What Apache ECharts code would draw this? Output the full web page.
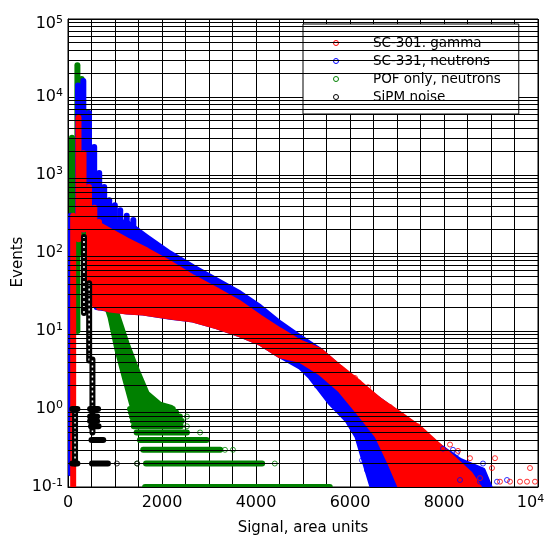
<!DOCTYPE html>
<html>
<head>
<meta charset="utf-8">
<script src="https://cdn.jsdelivr.net/npm/echarts@6/dist/echarts.min.js"></script>
<style>
  html, body { margin: 0; padding: 0; background: #fff; }
  #chart { width: 544px; height: 537px; }
</style>
</head>
<body>
<div id="chart"></div>
<script>
// ---- Series names (legend order) ----
const seriesNames = ['SC-301. gamma', 'SC-331, neutrons', 'POF only, neutrons', 'SiPM noise'];

// ---- Axis ticks ----
const xLabelTicks = [0, 2000, 4000, 6000, 8000, 10000];
const yDecades = [-1, 0, 1, 2, 3, 4, 5];

// ---- SC-301, gamma ----
// columns: [signal, lowest events, highest events]
const gammaColumns = [[110, 0.1, 300], [223, 150, 5400], [330, 200, 1900], [447, 30, 700], [560, 22, 380], [660, 20, 250]];
// envelope of the dense cloud: [signal, events]
const gammaBandUpper = [[700, 225], [1255, 147], [1681, 109], [2170, 74.5], [2660, 49.2], [3170, 33.5], [3660, 22.9], [4085, 15.1], [4511, 10.3], [4936, 7.2], [5362, 5.7], [5787, 3.45], [6213, 2.15], [6638, 1.3], [7064, 0.87], [7489, 0.57], [7850, 0.36], [8250, 0.22], [8550, 0.15], [8750, 0.1]];
const gammaBandLower = [[700, 20], [894, 18.6], [1255, 17.5], [1596, 17], [2170, 15.1], [2660, 13.8], [3170, 11.3], [3660, 8.9], [4085, 7.0], [4511, 4.8], [4936, 4.2], [5362, 2.9], [5787, 1.75], [6213, 0.85], [6574, 0.45], [6851, 0.2], [7064, 0.1]];
const gammaPoints = [[6106, 2.5], [6383, 1.9], [6851, 1.06], [7447, 0.6], [7596, 0.42], [8128, 0.35], [8298, 0.29], [8553, 0.234], [9085, 0.234], [9021, 0.175], [9830, 0.175], [8596, 0.117], [8766, 0.13], [9191, 0.117], [9404, 0.117], [9617, 0.117], [9766, 0.117], [9936, 0.117]];

// ---- SC-331, neutrons ----
const neutronColumns = [[55, 0.15, 300], [213, 200, 14000], [326, 200, 16000], [447, 200, 6240], [557, 150, 2290], [664, 100, 1060], [770, 100, 700], [877, 100, 476], [996, 100, 410], [1111, 100, 354], [1249, 100, 300], [1390, 100, 265]];
const neutronBandUpper = [[600, 250], [1250, 250], [1675, 162], [2170, 100], [2660, 66.7], [3164, 45], [3660, 30.7], [4085, 20.5], [4511, 12.7], [4936, 8.45], [5362, 5.7], [5787, 3.4], [6213, 2.0], [6638, 1.3], [7064, 0.84], [7489, 0.54], [7915, 0.33], [8340, 0.22], [8830, 0.165], [8980, 0.1]];
const neutronBandLower = [[600, 20], [1255, 17.5], [1596, 17], [2170, 15], [2660, 13.8], [3170, 11.3], [3660, 8.9], [4085, 7.0], [4511, 4.8], [4936, 3.45], [5149, 2.6], [5575, 1.2], [5936, 0.72], [6149, 0.44], [6277, 0.24], [6468, 0.1]];
const neutronPoints = [[5291, 2.0], [6255, 0.22], [6362, 0.165], [7979, 0.31], [8191, 0.3], [8277, 0.273], [8617, 0.175], [8830, 0.2], [8340, 0.123], [8766, 0.117], [9128, 0.117], [9340, 0.123]];

// ---- POF only, neutrons ----
const pofColumns = [[85, 2, 3000], [200, 10, 25600], [290, 100, 17000], [400, 100, 6400], [500, 50, 1300]];
const pofBandUpper = [[851, 21], [1043, 17], [1255, 7.0], [1468, 3.2], [1681, 1.6], [1957, 1.15], [2200, 1.05]];
const pofBandLower = [[851, 18], [894, 15], [1043, 5.7], [1213, 2.35], [1362, 1.1], [1500, 0.95], [2200, 0.95]];
// rows: [events, first signal, last signal]
const pofRows = [[1.0, 1320, 2230], [0.9, 1340, 2300], [0.8, 1360, 2380], [0.7, 1380, 2420], [0.6, 1400, 2400], [0.5, 1460, 2530], [0.4, 1530, 2950], [0.3, 1600, 3240], [0.2, 1660, 4130], [0.1, 1640, 5570]];
const pofPoints = [[1745, 1.2], [2064, 0.9], [2530, 0.8], [2530, 0.6], [2810, 0.5], [3340, 0.3], [3510, 0.3], [4400, 0.2], [1470, 0.2]];

// ---- SiPM noise ----
const noiseColumns = [[150, 0.2, 1.0], [340, 17, 160], [450, 4.2, 41], [520, 0.5, 4.3]];
const noiseRows = [[1.0, 90, 200], [1.0, 470, 640], [0.8, 470, 620], [0.7, 470, 620], [0.6, 490, 650], [0.4, 500, 750], [0.2, 90, 200], [0.2, 510, 850]];
const noisePoints = [[1040, 0.2], [1470, 0.2]];

// ---- Styling ----
const FONT = 'DejaVu Sans';
const RED = '#ff0000', BLUE = '#0000ff', GREEN = '#008000', BLACK = '#000000';
const MARK = 6; // outer diameter of a hollow marker, px

// minor log grid levels 2..9 x 10^k
const minorLevels = [];
for (let k = -1; k < 5; k++) {
  for (let m = 2; m <= 9; m++) minorLevels.push(+(m * Math.pow(10, k)).toPrecision(3));
}

function columnSeries(name, color, data, hollow) {
  return {
    name, type: 'custom', clip: true, data, silent: true,
    encode: { x: 0, y: [1, 2] },
    itemStyle: { color },
    renderItem(params, api) {
      const a = api.coord([api.value(0), api.value(1)]);
      const b = api.coord([api.value(0), api.value(2)]);
      const shape = { x1: a[0], y1: a[1], x2: b[0], y2: b[1] };
      const outer = { type: 'line', shape, style: { stroke: color, lineWidth: MARK, lineCap: 'round' } };
      if (!hollow) return outer;
      return {
        type: 'group',
        children: [outer, { type: 'line', shape, style: { stroke: '#fff', lineWidth: 1.5, lineDash: [2, 3] } }]
      };
    }
  };
}

function rowSeries(name, color, data) {
  return {
    name, type: 'custom', clip: true, data, silent: true,
    encode: { y: 0, x: [1, 2] },
    itemStyle: { color },
    renderItem(params, api) {
      const a = api.coord([api.value(1), api.value(0)]);
      const b = api.coord([api.value(2), api.value(0)]);
      return { type: 'line', shape: { x1: a[0], y1: a[1], x2: b[0], y2: b[1] }, style: { stroke: color, lineWidth: MARK, lineCap: 'round' } };
    }
  };
}

function bandSeries(name, color, upper, lower) {
  const outline = upper.concat(lower.slice().reverse());
  return {
    name, type: 'custom', clip: true, data: outline, silent: true,
    encode: { x: 0, y: 1 },
    itemStyle: { color },
    renderItem(params, api) {
      if (params.dataIndex !== 0) return null;
      return {
        type: 'polygon',
        shape: { points: outline.map(p => api.coord(p)) },
        style: { fill: color, stroke: color, lineWidth: MARK - 1, lineJoin: 'round' }
      };
    }
  };
}

function pointSeries(name, color, data) {
  return {
    name, type: 'scatter', clip: true, data, silent: true,
    symbol: 'circle', symbolSize: MARK - 1,
    itemStyle: { color: 'rgba(0,0,0,0)', borderColor: color, borderWidth: 1 }
  };
}

const rich = {
  b: { fontFamily: FONT, fontSize: 16, lineHeight: 18, color: '#000' },
  s: { fontFamily: FONT, fontSize: 11, lineHeight: 11, color: '#000', verticalAlign: 'top' },
  gap: { fontSize: 1, lineHeight: 10 },   // empty first line that pushes the top label down
  pad: { width: 15 }                     // trailing space that pulls the last x label left
};

function powerLabel(e) {
  return '{b|10}{s|' + e + '}';
}

const chart = echarts.init(document.getElementById('chart'), null, { renderer: 'canvas' });

chart.setOption({
  animation: false,
  backgroundColor: '#fff',
  grid: {
    left: 68, right: 6, top: 19, bottom: 50,
    containLabel: false, outerBoundsMode: 'none',
    show: true, borderColor: '#000', borderWidth: 1, backgroundColor: 'transparent'
  },
  legend: {
    orient: 'vertical', left: 303, top: 24,
    padding: [12, 18, 10, 30],
    itemWidth: 6, itemHeight: 5, itemGap: 4,
    backgroundColor: '#fff', borderColor: '#000', borderWidth: 1,
    selectedMode: false,
    textStyle: { fontFamily: FONT, fontSize: 13.5, lineHeight: 14, color: '#000', padding: [0, 0, 0, 29] },
    data: [
      { name: seriesNames[0], icon: 'circle', itemStyle: { color: '#fff', borderColor: RED, borderWidth: 1 } },
      { name: seriesNames[1], icon: 'circle', itemStyle: { color: '#fff', borderColor: BLUE, borderWidth: 1 } },
      { name: seriesNames[2], icon: 'circle', itemStyle: { color: '#fff', borderColor: GREEN, borderWidth: 1 } },
      { name: seriesNames[3], icon: 'circle', itemStyle: { color: '#fff', borderColor: BLACK, borderWidth: 1 } }
    ]
  },
  xAxis: {
    type: 'value', min: 0, max: 10000, interval: 500,
    name: 'Signal, area units', nameLocation: 'middle', nameGap: 34, nameMoveOverlap: false,
    nameTextStyle: { fontFamily: FONT, fontSize: 15, color: '#000' },
    axisLine: { show: true, onZero: false, lineStyle: { color: '#000', width: 1 } },
    axisTick: { show: false },
    axisLabel: {
      margin: 7, rich,
      formatter(v) {
        if (xLabelTicks.indexOf(v) < 0) return '';
        if (v === xLabelTicks[xLabelTicks.length - 1]) return powerLabel(Math.round(Math.log10(v))) + '{pad|}';
        return '{b|' + v + '}';
      }
    },
    splitLine: { show: true, lineStyle: { color: '#000', width: 1 } }
  },
  yAxis: {
    type: 'log', logBase: 10, min: 0.1, max: 100000, splitNumber: 6,
    name: 'Events', nameLocation: 'middle', nameGap: 42, nameRotate: 90, nameMoveOverlap: false,
    nameTextStyle: { fontFamily: FONT, fontSize: 15, color: '#000', padding: [0, 18, 0, 0] },
    axisLine: { show: true, lineStyle: { color: '#000', width: 1 } },
    axisTick: { show: false },
    axisLabel: {
      margin: 5, rich,
      formatter(v) {
        const e = Math.round(Math.log10(v));
        if (yDecades.indexOf(e) < 0) return '';
        if (e === yDecades[yDecades.length - 1]) return '{gap|}\n' + powerLabel(e);
        return powerLabel(e);
      }
    },
    splitLine: { show: true, lineStyle: { color: '#000', width: 1 } }
  },
  series: [
    {
      type: 'line', data: [], silent: true, z: 1,
      markLine: {
        silent: true, symbol: ['none', 'none'], label: { show: false }, animation: false,
        lineStyle: { color: '#000', width: 1, type: 'solid' },
        data: minorLevels.map(v => ({ yAxis: v }))
      }
    },
    // POF only, neutrons
    bandSeries(seriesNames[2], GREEN, pofBandUpper, pofBandLower),
    columnSeries(seriesNames[2], GREEN, pofColumns, false),
    rowSeries(seriesNames[2], GREEN, pofRows),
    pointSeries(seriesNames[2], GREEN, pofPoints),
    // SC-331, neutrons
    bandSeries(seriesNames[1], BLUE, neutronBandUpper, neutronBandLower),
    columnSeries(seriesNames[1], BLUE, neutronColumns, false),
    pointSeries(seriesNames[1], BLUE, neutronPoints),
    // SC-301, gamma
    bandSeries(seriesNames[0], RED, gammaBandUpper, gammaBandLower),
    columnSeries(seriesNames[0], RED, gammaColumns, false),
    pointSeries(seriesNames[0], RED, gammaPoints),
    // SiPM noise
    columnSeries(seriesNames[3], BLACK, noiseColumns, true),
    rowSeries(seriesNames[3], BLACK, noiseRows),
    pointSeries(seriesNames[3], BLACK, noisePoints)
  ]
});
</script>
</body>
</html>
